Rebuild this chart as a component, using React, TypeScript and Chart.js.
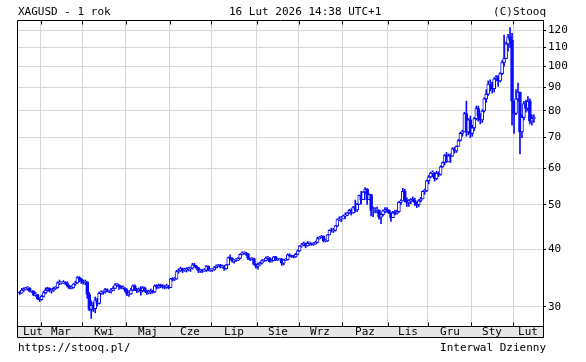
import React, { useEffect, useRef } from 'react';
import { Chart, registerables } from 'chart.js';

Chart.register(...registerables);

// ---- data -------------------------------------------------------------
const MONTHS = ['Lut', 'Mar', 'Kwi', 'Maj', 'Cze', 'Lip', 'Sie', 'Wrz', 'Paz', 'Lis', 'Gru', 'Sty', 'Lut'];
// trading days of each month shown (Feb 2025 partial ... Feb 2026 partial)
const MONTH_DAYS = [11, 21, 22, 22, 21, 23, 21, 22, 23, 20, 22, 21, 11];
const Y_TICKS = [30, 40, 50, 60, 70, 80, 90, 100, 110, 120];

const FIRST_OPEN = 32.3;

const CLOSE = [
  // Feb 2025
  32.1, 32.6, 32.8, 32.9, 32.9, 32.4, 32.4, 31.8, 31.9, 31.2, 31.1,
  // Mar
  31.6, 32.2, 32.6, 32.9, 32.5, 32.6, 32.9, 33.0, 33.8, 33.8, 33.8, 33.9, 33.7, 33.3, 32.9, 33.0, 33.6, 33.8, 34.7, 34.4, 34.1,
  // Apr
  33.9, 34.0, 31.9, 29.6, 30.2, 29.7, 31.0, 30.5, 32.1, 32.3, 32.3, 32.7, 32.4, 32.4, 32.5, 32.9, 33.5, 33.5, 33.2, 33.0, 33.0, 32.6,
  // May
  32.0, 32.0, 32.6, 33.3, 32.6, 32.5, 32.7, 32.5, 33.0, 32.5, 32.2, 32.3, 32.4, 32.3, 33.3, 33.1, 33.4, 33.3, 33.2, 33.1, 33.2, 33.0,
  // Jun
  34.5, 34.4, 34.5, 35.8, 35.9, 36.3, 36.0, 36.1, 36.3, 36.3, 36.4, 37.0, 36.8, 36.5, 35.9, 36.0, 35.9, 36.0, 36.8, 36.0, 36.1,
  // Jul
  36.1, 36.5, 36.8, 36.9, 36.6, 36.7, 36.3, 37.0, 38.4, 38.2, 37.7, 37.9, 37.9, 38.2, 39.0, 39.3, 39.3, 39.1, 38.2, 38.1, 38.2, 37.1, 36.7,
  // Aug
  37.0, 37.3, 37.8, 37.8, 38.3, 38.3, 37.6, 37.8, 38.5, 38.0, 38.0, 38.1, 37.3, 37.9, 38.0, 38.9, 38.7, 38.6, 38.5, 39.0, 39.7,
  // Sep
  40.7, 40.9, 41.2, 40.7, 41.2, 41.2, 41.0, 41.1, 41.4, 42.2, 42.5, 42.7, 41.7, 41.7, 43.0, 44.0, 43.9, 44.0, 45.0, 46.4, 46.6, 46.6,
  // Oct
  47.3, 47.4, 48.0, 48.6, 48.0, 49.4, 48.7, 50.1, 52.4, 51.3, 53.3, 54.1, 51.3, 52.6, 48.6, 48.6, 48.6, 48.7, 47.0, 47.6, 48.5, 48.8, 48.7,
  // Nov
  48.0, 46.9, 48.0, 47.9, 48.3, 50.6, 51.0, 53.5, 51.2, 50.6, 51.0, 51.4, 51.2, 50.6, 50.0, 51.0, 51.5, 53.5, 53.6, 56.4,
  // Dec
  57.5, 58.6, 58.6, 57.0, 58.5, 58.2, 60.5, 61.8, 64.0, 62.0, 63.9, 63.8, 66.3, 65.5, 67.0, 69.0, 71.5, 72.0, 79.0, 72.0, 76.5, 71.5,
  // Jan 2026
  73.5, 77.0, 81.0, 78.0, 76.5, 80.0, 85.0, 87.0, 91.5, 92.0, 89.5, 94.0, 95.0, 93.0, 96.5, 102.0, 104.0, 112.0, 116.0, 114.0, 84.0,
  // Feb 2026
  79.0, 85.0, 88.0, 72.0, 77.5, 83.0, 81.0, 84.0, 76.0, 77.0, 77.5,
];

const HIGH = [
  32.4, 32.9, 33.0, 33.1, 33.2, 33.0, 32.6, 32.5, 32.2, 31.9, 31.4,
  31.8, 32.4, 33.0, 33.1, 33.0, 32.8, 33.1, 33.2, 34.0, 34.3, 34.0, 34.2, 34.0, 34.0, 33.4, 33.3, 33.7, 34.1, 34.9, 34.9, 34.6,
  34.3, 34.3, 32.6, 32.2, 30.9, 30.7, 31.5, 31.3, 32.3, 32.5, 32.5, 32.9, 32.8, 32.6, 32.9, 33.2, 33.7, 33.7, 33.5, 33.3, 33.3, 33.0,
  32.8, 32.3, 32.9, 33.5, 33.5, 32.9, 33.0, 33.2, 33.2, 33.1, 32.6, 32.6, 32.8, 32.6, 33.5, 33.5, 33.6, 33.6, 33.5, 33.4, 33.6, 33.4,
  34.6, 34.7, 34.8, 36.0, 36.3, 36.6, 36.4, 36.4, 36.5, 36.6, 36.6, 37.3, 37.3, 36.9, 36.4, 36.2, 36.2, 36.3, 36.9, 36.8, 36.3,
  36.3, 36.7, 37.0, 37.1, 37.1, 37.0, 36.9, 37.1, 38.5, 38.9, 38.4, 38.0, 38.2, 38.4, 39.1, 39.5, 39.5, 39.4, 39.2, 38.3, 38.4, 38.3, 37.2,
  37.4, 37.5, 38.0, 38.0, 38.5, 38.6, 38.4, 38.0, 38.6, 38.6, 38.2, 38.2, 38.2, 38.0, 38.2, 39.1, 39.1, 38.8, 38.8, 39.2, 39.9,
  40.8, 41.2, 41.5, 41.3, 41.6, 41.5, 41.3, 41.4, 41.7, 42.5, 42.7, 42.9, 42.8, 42.1, 43.1, 44.1, 44.5, 44.4, 45.1, 46.6, 47.1, 47.2,
  47.5, 48.0, 48.2, 48.9, 49.0, 49.6, 51.2, 50.4, 52.5, 53.5, 53.4, 54.5, 54.2, 52.8, 52.7, 49.4, 49.3, 49.4, 48.5, 47.9, 48.7, 49.3, 49.3,
  48.5, 48.2, 48.4, 48.6, 48.7, 50.8, 51.3, 54.3, 54.0, 51.8, 51.3, 51.6, 52.0, 51.7, 50.7, 51.3, 51.9, 53.6, 54.1, 56.6,
  57.9, 58.9, 59.3, 58.8, 59.2, 59.0, 60.8, 62.0, 64.4, 65.0, 64.5, 64.5, 66.5, 66.7, 67.2, 69.4, 72.0, 72.7, 79.5, 84.0, 77.0, 78.0,
  74.5, 77.5, 82.0, 82.0, 79.0, 80.5, 85.5, 89.0, 93.0, 93.5, 92.5, 94.5, 95.5, 95.5, 97.0, 103.0, 117.0, 113.0, 117.5, 121.5, 118.0,
  84.0, 89.0, 92.0, 88.0, 78.5, 84.0, 84.5, 86.0, 85.0, 78.5, 78.5,
];

const LOW = [
  31.9, 32.1, 32.4, 32.6, 32.6, 32.3, 32.2, 31.7, 31.6, 31.1, 30.8,
  31.0, 31.5, 32.0, 32.4, 32.3, 32.1, 32.4, 32.7, 32.9, 33.5, 33.6, 33.7, 33.5, 33.1, 32.8, 32.8, 32.9, 33.4, 33.7, 34.0, 33.7,
  33.6, 33.5, 31.3, 29.4, 28.3, 29.3, 29.1, 30.1, 30.4, 31.9, 31.9, 32.1, 32.3, 32.2, 32.1, 32.6, 33.0, 33.2, 32.7, 32.8, 32.8, 32.3,
  31.7, 31.6, 31.9, 32.5, 32.5, 32.2, 32.3, 31.8, 32.3, 32.3, 31.9, 32.0, 32.0, 32.1, 32.2, 32.8, 32.9, 33.0, 32.9, 32.8, 32.9, 32.8,
  33.1, 34.1, 34.2, 34.4, 35.5, 35.8, 35.6, 35.8, 35.7, 35.9, 35.8, 36.2, 36.6, 36.2, 35.6, 35.6, 35.6, 35.8, 35.8, 35.9, 35.8,
  35.8, 36.0, 36.4, 36.7, 36.4, 36.5, 36.0, 36.2, 37.0, 38.0, 37.5, 37.3, 37.6, 37.8, 38.1, 38.9, 39.0, 38.8, 38.0, 37.8, 37.9, 37.0, 36.4,
  36.2, 36.9, 37.2, 37.6, 37.7, 37.9, 37.5, 37.5, 37.8, 37.8, 37.8, 37.9, 36.9, 37.0, 37.8, 37.9, 38.5, 38.4, 38.3, 38.4, 38.9,
  39.6, 40.4, 40.7, 40.3, 40.6, 40.8, 40.8, 40.8, 41.0, 41.3, 42.1, 42.4, 41.5, 41.5, 41.6, 43.0, 43.6, 43.5, 43.8, 44.8, 46.2, 45.9,
  46.6, 46.7, 47.3, 47.8, 47.5, 47.9, 48.2, 48.3, 50.1, 50.2, 51.4, 52.9, 50.1, 51.3, 47.3, 47.1, 48.0, 48.0, 46.5, 45.5, 47.3, 48.0, 48.1,
  47.8, 46.0, 46.9, 47.5, 47.7, 48.1, 50.0, 51.0, 50.7, 49.6, 49.6, 50.3, 50.8, 49.8, 49.3, 49.5, 50.7, 51.5, 52.7, 53.4,
  55.5, 57.2, 57.5, 56.3, 56.7, 57.6, 58.0, 60.3, 61.0, 61.8, 62.0, 61.8, 63.7, 64.8, 65.0, 67.0, 68.8, 70.5, 72.0, 70.5, 71.0, 70.0,
  70.5, 72.5, 76.5, 76.0, 75.0, 75.5, 79.5, 83.5, 86.5, 88.5, 87.5, 88.0, 93.0, 90.5, 92.5, 96.0, 100.0, 104.0, 108.0, 110.0, 74.5,
  71.5, 78.5, 84.0, 64.5, 70.0, 76.5, 79.5, 80.0, 75.0, 74.5, 75.5,
];

// ---- style ------------------------------------------------------------
const BLUE = '#0a0aff';
const GRID = '#d6d6d6';
const STRIP = '#e6e6e6';
const FONT = '"DejaVu Sans Mono", "Liberation Mono", monospace';

const X_MIN = -1.4;
const X_MAX = 263.6;

function monthBoundaries(): number[] {
  const out: number[] = [];
  let acc = 0;
  for (let k = 0; k < MONTH_DAYS.length - 1; k++) {
    acc += MONTH_DAYS[k];
    out.push(acc - 0.5);
  }
  return out;
}

const framePlugin = {
  id: 'stooqFrame',
  beforeDraw(chart: any) {
    const { ctx, chartArea: a } = chart;
    const x = chart.scales.x;
    ctx.save();
    ctx.fillStyle = '#ffffff';
    ctx.fillRect(0, 0, chart.width, chart.height);
    ctx.fillStyle = STRIP;
    ctx.fillRect(a.left, a.bottom, a.right - a.left, x.bottom - a.bottom);
    ctx.restore();
  },
  afterDraw(chart: any) {
    const { ctx, chartArea: a } = chart;
    const x = chart.scales.x;
    const bounds = monthBoundaries();
    ctx.save();
    ctx.strokeStyle = '#000';
    ctx.lineWidth = 1;
    const L = Math.round(a.left) + 0.5;
    const R = Math.round(a.right) + 0.5;
    const T = Math.round(a.top) + 0.5;
    const B = Math.round(a.bottom) + 0.5;
    const SB = Math.round(x.bottom) + 0.5;
    ctx.beginPath();
    ctx.moveTo(L, T); ctx.lineTo(R, T);
    ctx.moveTo(L, T); ctx.lineTo(L, SB);
    ctx.moveTo(L, B); ctx.lineTo(R, B);
    ctx.moveTo(L, SB); ctx.lineTo(R, SB);
    ctx.moveTo(R, T); ctx.lineTo(R, SB);
    // month tick marks
    bounds.forEach((b) => {
      const px = Math.round(x.getPixelForValue(b)) + 0.5;
      ctx.moveTo(px, T); ctx.lineTo(px, T + 4);
      ctx.moveTo(px, B - 4); ctx.lineTo(px, B);
    });
    ctx.stroke();

    // month labels
    ctx.fillStyle = '#000';
    ctx.font = `11px ${FONT}`;
    ctx.textAlign = 'center';
    ctx.textBaseline = 'alphabetic';
    MONTHS.forEach((m, k) => {
      const left = k === 0 ? a.left : x.getPixelForValue(bounds[k - 1]);
      const right = k === MONTHS.length - 1 ? a.right : x.getPixelForValue(bounds[k]);
      const shift = k === 0 ? 4 : 0;
      ctx.fillText(m, Math.round((left + right) / 2) + shift, Math.round(x.bottom) - 2);
    });

    // header & footer texts
    ctx.textAlign = 'left';
    ctx.fillText('XAGUSD - 1 rok', 18, 15);
    ctx.fillText('16 Lut 2026 14:38 UTC+1', 229, 15);
    ctx.textAlign = 'right';
    ctx.fillText('(C)Stooq', 546, 15);
    ctx.textAlign = 'left';
    ctx.fillText('https://stooq.pl/', 18, 351);
    ctx.textAlign = 'right';
    ctx.fillText('Interwal Dzienny', 546, 351);
    ctx.restore();
  },
};

export default function App() {
  const ref = useRef<HTMLCanvasElement | null>(null);

  useEffect(() => {
    if (!ref.current) return;
    const bodies: any[] = [];
    const wicks: any[] = [];
    const fills: string[] = [];
    CLOSE.forEach((c, i) => {
      const o = i === 0 ? FIRST_OPEN : CLOSE[i - 1];
      const hi = Math.max(HIGH[i], o, c);
      const lo = Math.min(LOW[i], o, c);
      bodies.push({ x: i, y: [o, c] });
      wicks.push({ x: i, y: [lo, hi] });
      fills.push(c >= o ? '#ffffff' : BLUE);
    });
    const bounds = monthBoundaries();

    const chart = new Chart(ref.current, {
      type: 'bar',
      data: {
        datasets: [
          {
            label: 'body',
            data: bodies,
            backgroundColor: fills,
            borderColor: BLUE,
            borderWidth: 1,
            borderSkipped: false,
            barThickness: 3,
            minBarLength: 1,
            grouped: false,
            order: 0,
          } as any,
          {
            label: 'wick',
            data: wicks,
            backgroundColor: BLUE,
            borderWidth: 0,
            barThickness: 1,
            grouped: false,
            order: 1,
          } as any,
        ],
      },
      options: {
        animation: false,
        responsive: false,
        devicePixelRatio: 1,
        layout: { padding: { left: 17, top: 20, right: 0, bottom: 25 } },
        plugins: { legend: { display: false }, tooltip: { enabled: false }, title: { display: false } },
        scales: {
          x: {
            type: 'linear',
            offset: false,
            min: X_MIN,
            max: X_MAX,
            position: 'bottom',
            afterBuildTicks: (s: any) => {
              s.ticks = bounds.map((v) => ({ value: v }));
            },
            afterFit: (s: any) => {
              s.height = 11;
            },
            grid: { color: GRID, lineWidth: 1, drawTicks: false, offset: false },
            ticks: { display: false },
            border: { display: false },
          },
          y: {
            type: 'logarithmic',
            position: 'right',
            min: 27.24,
            max: 126.2,
            afterBuildTicks: (s: any) => {
              s.ticks = Y_TICKS.map((v) => ({ value: v }));
            },
            afterFit: (s: any) => {
              s.width = 43;
            },
            grid: { color: GRID, lineWidth: 1, drawTicks: true, tickColor: '#000', tickLength: 3 },
            ticks: {
              callback: (v: any) => String(v),
              font: { family: FONT, size: 11 },
              color: '#000',
              padding: 2,
              autoSkip: false,
              maxRotation: 0,
            },
            border: { display: true, color: '#000', width: 1 },
          },
        },
      },
      plugins: [framePlugin],
    } as any);
    return () => chart.destroy();
  }, []);

  return (
    <div style={{ position: 'fixed', left: 0, top: 0, width: 586, height: 362, background: '#fff' }}>
      <canvas ref={ref} width={586} height={362} style={{ width: 586, height: 362, display: 'block' }} />
    </div>
  );
}
